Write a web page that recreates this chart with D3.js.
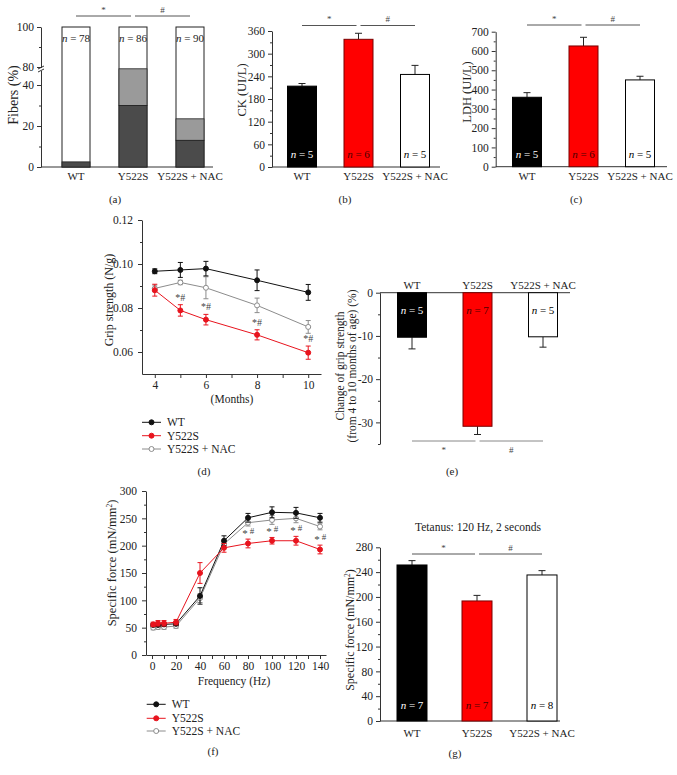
<!DOCTYPE html>
<html>
<head>
<meta charset="utf-8">
<script src="https://cdn.jsdelivr.net/npm/d3@7"></script>
<style>
body { margin: 0; background: #fff; }
</style>
</head>
<body>
<div id="fig"></div>
<script>
const groups = ["WT", "Y522S", "Y522S + NAC"];
const barFill = ["#000", "#ff0000", "#fff"];
const barStroke = ["#000", "#7a0000", "#000"];
const nFill = ["#fff", "#4a0000", "#000"];

// (a) fibers with cores
const fiberN = [78, 86, 90];
const fiberDark = [2.5, 30, 13];
const fiberGrey = [0, 46, 10.5];
// (b) CK
const ckMean = [214, 338, 245];
const ckSem = [7, 16, 24];
const ckN = [5, 6, 5];
// (c) LDH
const ldhMean = [360, 626, 450];
const ldhSem = [24, 45, 19];
const ldhN = [5, 6, 5];
// (d) grip strength
const months = [4, 5, 6, 8, 10];
const gripWT = [0.0967, 0.0973, 0.0979, 0.0926, 0.0871];
const gripWTErr = [0.0011, 0.0034, 0.0033, 0.0047, 0.0036];
const gripY = [0.0881, 0.0789, 0.0747, 0.0678, 0.0597];
const gripYErr = [0.0027, 0.0026, 0.0024, 0.0023, 0.003];
const gripNAC = [0.0889, 0.0916, 0.0892, 0.0812, 0.0714];
const gripNACErr = [0.0015, 0.001, 0.005, 0.0033, 0.0029];
const gripStars = [5, 6, 8, 10];
// (e) change of grip strength
const changeMean = [-10.3, -30.9, -10.2];
const changeSem = [2.7, 1.9, 2.4];
const changeN = [5, 7, 5];
// (f) force-frequency
const freq = [1, 5, 10, 20, 40, 60, 80, 100, 120, 140];
const forceWT = [55, 55, 56, 57, 108, 209, 251, 261, 260, 251];
const forceWTErr = [3, 3, 3, 3, 15, 9, 8, 10, 10, 8];
const forceY = [56, 58, 58, 60, 150, 196, 204, 209, 209, 193];
const forceYErr = [4, 5, 5, 5, 19, 8, 8, 6, 8, 8];
const forceNAC = [50, 51, 51, 53, 104, 203, 242, 247, 250, 235];
const forceNACErr = [4, 4, 4, 4, 8, 6, 6, 8, 8, 6];
const forceStars = [80, 100, 120, 140];
// (g) tetanus
const tetMean = [251.5, 193.5, 235.4];
const tetSem = [7, 9, 7];
const tetN = [7, 7, 8];

const svg = d3.select('#fig').append('svg')
  .attr('width', 677)
  .attr('height', 775)
  .attr('font-family', '"Liberation Serif", "Times New Roman", serif');

function styleAxis(g, size) {
  g.attr('font-family', null).attr('font-size', size || 11.5);
  g.selectAll('path, line').attr('stroke', '#333');
  g.selectAll('text').attr('fill', '#222');
}

function leftAxis(y, x, major, minor, fmt, pad) {
  const g = svg.append('g').attr('transform', `translate(${x},0)`)
    .call(d3.axisLeft(y).tickValues(major).tickFormat(fmt).tickSize(4).tickPadding(pad).tickSizeOuter(0));
  styleAxis(g);
  if (minor) {
    const m = svg.append('g').attr('transform', `translate(${x},0)`)
      .call(d3.axisLeft(y).tickValues(minor).tickFormat('').tickSize(2).tickSizeOuter(0));
    m.select('.domain').remove();
    styleAxis(m);
  }
  return g;
}

function label(x, y, txt, size, opts) {
  opts = opts || {};
  const t = svg.append('text')
    .attr('x', x).attr('y', y)
    .attr('text-anchor', opts.anchor || 'middle')
    .attr('font-size', size)
    .attr('fill', opts.fill || '#222')
    .text(txt);
  if (opts.rotate) t.attr('transform', `rotate(-90,${x},${y})`).attr('dy', '0.35em');
  return t;
}

function nLabel(x, y, n, fill) {
  const t = svg.append('text').attr('x', x).attr('y', y)
    .attr('text-anchor', 'middle').attr('font-size', 11).attr('fill', fill);
  t.append('tspan').attr('font-style', 'italic').text('n');
  t.append('tspan').text(' = ' + n);
}

function sigBars(x, yLine, ySym, color) {
  const pairs = [[x(groups[0]), x(groups[1]) - 2, '*'], [x(groups[1]) + 2, x(groups[2]), '#']];
  pairs.forEach(p => {
    svg.append('line').attr('x1', p[0]).attr('x2', p[1]).attr('y1', yLine).attr('y2', yLine)
      .attr('stroke', color).attr('stroke-width', 1);
    label((p[0] + p[1]) / 2, ySym, p[2], 9, { fill: '#444' });
  });
}

function barPanel(cfg) {
  const x = d3.scalePoint().domain(groups).range(cfg.xr);
  const y = d3.scaleLinear().domain(cfg.yd).range(cfg.yr);
  const bw = cfg.bw;
  leftAxis(y, cfg.axisX, cfg.major, cfg.minor, d => d, 3);
  svg.append('line').attr('x1', cfg.axisX).attr('x2', cfg.xEnd)
    .attr('y1', y(0)).attr('y2', y(0)).attr('stroke', '#333');
  groups.forEach((gname, i) => {
    const cx = x(gname);
    const top = y(cfg.mean[i] + cfg.sem[i]);
    svg.append('line').attr('x1', cx).attr('x2', cx)
      .attr('y1', y(cfg.mean[i])).attr('y2', top).attr('stroke', '#222');
    svg.append('line').attr('x1', cx - 3.5).attr('x2', cx + 3.5)
      .attr('y1', top).attr('y2', top).attr('stroke', '#222');
    svg.append('rect')
      .attr('x', cx - bw / 2).attr('width', bw)
      .attr('y', Math.min(y(cfg.mean[i]), y(0)))
      .attr('height', Math.abs(y(cfg.mean[i]) - y(0)))
      .attr('fill', barFill[i]).attr('stroke', barStroke[i]).attr('stroke-width', 1);
    nLabel(cx, cfg.nY, cfg.n[i], nFill[i]);
    if (cfg.catY) label(cx, cfg.catY, gname, 11);
  });
  return x;
}

// ---------- (a) ----------
{
  const x = d3.scalePoint().domain(groups).range([76, 190]);
  const y = d3.scaleLinear().domain([0, 40, 80, 100]).range([167, 85, 67, 27]);
  leftAxis(y, 41, [0, 20, 40, 80, 100], [10, 30, 90], d => d, 3);
  // axis break
  svg.append('rect').attr('x', 37).attr('y', 68).attr('width', 8).attr('height', 3).attr('fill', '#fff');
  [67, 70].forEach(v => svg.append('line').attr('x1', 38).attr('x2', 44)
    .attr('y1', v + 2).attr('y2', v - 1).attr('stroke', '#333'));
  svg.append('line').attr('x1', 41).attr('x2', 213).attr('y1', 167).attr('y2', 167).attr('stroke', '#333');
  groups.forEach((gname, i) => {
    const cx = x(gname);
    svg.append('rect').attr('x', cx - 14).attr('width', 28)
      .attr('y', y(100)).attr('height', y(0) - y(100))
      .attr('fill', '#fff').attr('stroke', '#222');
    svg.append('rect').attr('x', cx - 14).attr('width', 28)
      .attr('y', y(fiberDark[i] + fiberGrey[i])).attr('height', y(fiberDark[i]) - y(fiberDark[i] + fiberGrey[i]))
      .attr('fill', '#9a9a9a').attr('stroke', '#222').attr('stroke-width', 0.8);
    svg.append('rect').attr('x', cx - 14).attr('width', 28)
      .attr('y', y(fiberDark[i])).attr('height', y(0) - y(fiberDark[i]))
      .attr('fill', '#4b4b4b').attr('stroke', '#222').attr('stroke-width', 0.8);
    nLabel(cx, 42, fiberN[i], '#222');
    label(cx, 180, gname, 11);
  });
  sigBars(x, 16, 13, '#555');
  label(13, 95, 'Fibers (%)', 14, { rotate: true });
  label(115, 203, '(a)', 11);
}

// ---------- (b) ----------
{
  const x = barPanel({ xr: [302, 415], bw: 29, yd: [0, 360], yr: [167, 31], axisX: 272, xEnd: 440,
    major: d3.range(0, 361, 60), minor: d3.range(30, 360, 60),
    mean: ckMean, sem: ckSem, n: ckN, nY: 158, catY: 180 });
  sigBars(x, 25.5, 22, '#555');
  label(242, 90, 'CK (UI/L)', 12.5, { rotate: true });
  label(345, 203, '(b)', 11);
}

// ---------- (c) ----------
{
  const x = barPanel({ xr: [527, 640], bw: 29, yd: [0, 700], yr: [166.7, 31.7], axisX: 495.7, xEnd: 667,
    major: d3.range(0, 701, 100), minor: d3.range(50, 700, 100),
    mean: ldhMean, sem: ldhSem, n: ldhN, nY: 158, catY: 180 });
  sigBars(x, 25, 22, '#555');
  label(467, 92, 'LDH (UI/L)', 12.5, { rotate: true });
  label(576, 203, '(c)', 11);
}

// ---------- line panels ----------
function linePanel(x, y, xs, series, capW) {
  series.forEach(s => {
    xs.forEach((v, i) => {
      const lo = y(s.mean[i] - s.err[i]), hi = y(s.mean[i] + s.err[i]);
      svg.append('line').attr('x1', x(v)).attr('x2', x(v)).attr('y1', lo).attr('y2', hi).attr('stroke', s.color);
      [lo, hi].forEach(yy => svg.append('line').attr('x1', x(v) - capW).attr('x2', x(v) + capW)
        .attr('y1', yy).attr('y2', yy).attr('stroke', s.color));
    });
    svg.append('path').datum(xs.map((v, i) => [v, s.mean[i]]))
      .attr('d', d3.line().x(d => x(d[0])).y(d => y(d[1])))
      .attr('fill', 'none').attr('stroke', s.color).attr('stroke-width', 1);
    xs.forEach((v, i) => svg.append('circle').attr('cx', x(v)).attr('cy', y(s.mean[i])).attr('r', 2.5)
      .attr('fill', s.fill).attr('stroke', s.color));
  });
}

function legend(x, ys, series) {
  series.forEach((s, i) => {
    svg.append('line').attr('x1', x).attr('x2', x + 19).attr('y1', ys[i]).attr('y2', ys[i]).attr('stroke', s.color);
    svg.append('circle').attr('cx', x + 9.5).attr('cy', ys[i]).attr('r', 2.5).attr('fill', s.fill).attr('stroke', s.color);
    label(x + 25, ys[i] + 4, s.name, 11.5, { anchor: 'start' });
  });
}

// ---------- (d) ----------
{
  const x = d3.scaleLinear().domain([3.5, 10.5]).range([142, 321]);
  const y = d3.scaleLinear().domain([0.05, 0.12]).range([374, 220]);
  leftAxis(y, 142, [0.06, 0.08, 0.10, 0.12], [0.07, 0.09, 0.11], d3.format('.2f'), 5);
  const gx = svg.append('g').attr('transform', 'translate(0,374)')
    .call(d3.axisBottom(x).tickValues(d3.range(4, 11)).tickFormat(d => d % 2 ? '' : d)
      .tickSize(4).tickPadding(3).tickSizeOuter(0));
  styleAxis(gx);
  const series = [
    { name: 'Y522S + NAC', mean: gripNAC, err: gripNACErr, color: '#8c8c8c', fill: '#fff' },
    { name: 'WT', mean: gripWT, err: gripWTErr, color: '#111', fill: '#111' },
    { name: 'Y522S', mean: gripY, err: gripYErr, color: '#e8141e', fill: '#e8141e' }
  ];
  linePanel(x, y, months, series, 2.5);
  gripStars.forEach(m => {
    const i = months.indexOf(m);
    label(x(m), y(gripY[i] + gripYErr[i]) - 4, '*#', 10, { fill: '#444' });
  });
  label(109, 300, 'Grip strength (N/g)', 12, { rotate: true });
  label(232, 403, '(Months)', 11.5);
  legend(142, [422.3, 435.7, 449], [series[1], series[2], series[0]]);
  label(204, 475, '(d)', 11);
}

// ---------- (e) ----------
{
  const x = barPanel({ xr: [412, 543], bw: 29, yd: [-35, 0], yr: [444, 292.7], axisX: 380, xEnd: 570,
    major: [0, -10, -20, -30], minor: [-5, -15, -25, -35],
    mean: changeMean, sem: changeSem.map(d => -d), n: changeN, nY: 314 });
  groups.forEach(gname => label(x(gname), 289, gname, 11));
  sigBars(x, 441, 453, '#888');
  label(340, 366, 'Change of grip strength', 11.5, { rotate: true });
  label(352, 366, '(from 4 to 10 months of age) (%)', 11.5, { rotate: true });
  label(452, 475, '(e)', 11);
}

// ---------- (f) ----------
{
  const x = d3.scaleLinear().domain([-5, 145]).range([146, 326]);
  const y = d3.scaleLinear().domain([0, 300]).range([655, 491]);
  leftAxis(y, 146, d3.range(0, 301, 50), d3.range(25, 300, 50), d => d, 5);
  const gx = svg.append('g').attr('transform', 'translate(0,655)')
    .call(d3.axisBottom(x).tickValues(d3.range(0, 141, 10)).tickFormat(d => d % 20 ? '' : d)
      .tickSize(4).tickPadding(3).tickSizeOuter(0));
  styleAxis(gx);
  const series = [
    { name: 'Y522S + NAC', mean: forceNAC, err: forceNACErr, color: '#8c8c8c', fill: '#fff' },
    { name: 'WT', mean: forceWT, err: forceWTErr, color: '#111', fill: '#111' },
    { name: 'Y522S', mean: forceY, err: forceYErr, color: '#e8141e', fill: '#e8141e' }
  ];
  linePanel(x, y, freq, series, 2.5);
  forceStars.forEach(f => {
    const i = freq.indexOf(f);
    const yy = y(forceY[i] + forceYErr[i]) - 4;
    label(x(f) - 3, yy + 2, '*', 11, { fill: '#444' });
    label(x(f) + 4, yy - 1, '#', 9, { fill: '#444' });
  });
  const t = label(112, 563, 'Specific force (mN/mm', 12.5, { rotate: true });
  t.append('tspan').attr('baseline-shift', 'super').attr('font-size', 7.5).text('2');
  t.append('tspan').text(')');
  label(234, 685, 'Frequency (Hz)', 11.5);
  legend(146.7, [704.3, 718.3, 731], [series[1], series[2], series[0]]);
  label(213, 755, '(f)', 11);
}

// ---------- (g) ----------
{
  const x = barPanel({ xr: [412, 542], bw: 30, yd: [0, 280], yr: [721, 547.3], axisX: 380, xEnd: 560,
    major: d3.range(0, 281, 40), minor: d3.range(20, 280, 40),
    mean: tetMean, sem: tetSem, n: tetN, nY: 709, catY: 737 });
  sigBars(x, 554, 551, '#555');
  label(478, 531, 'Tetanus: 120 Hz, 2 seconds', 11.5);
  const t = label(350, 630, 'Specific force (mN/mm', 12, { rotate: true });
  t.append('tspan').attr('baseline-shift', 'super').attr('font-size', 7.5).text('2');
  t.append('tspan').text(')');
  label(455, 757, '(g)', 11);
}
</script>
</body>
</html>
